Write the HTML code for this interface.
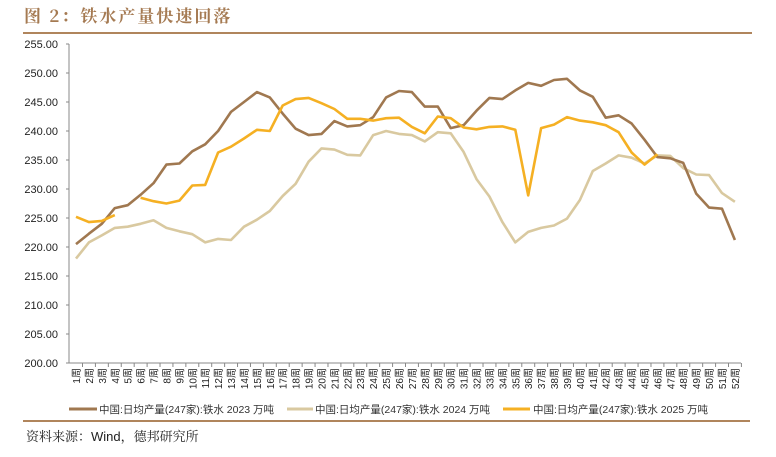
<!DOCTYPE html>
<html><head><meta charset="utf-8"><style>
body{margin:0;width:776px;height:452px;background:#fff;overflow:hidden;font-family:"Liberation Sans","Noto Sans CJK SC",sans-serif}
</style></head><body>
<svg id="s" width="776" height="452" xmlns="http://www.w3.org/2000/svg" font-family="Liberation Sans, Noto Sans CJK SC, sans-serif">
<text x="24" y="22" font-size="17" font-weight="bold" fill="#a57a52" font-family="Noto Serif CJK SC, serif" letter-spacing="2">图 2：铁水产量快速回落</text>
<line x1="23" y1="33" x2="752" y2="33" stroke="#b0855c" stroke-width="2"/>
<line x1="23" y1="421" x2="750" y2="421" stroke="#b0855c" stroke-width="2"/>
<text x="26" y="441" font-size="13" fill="#222" font-family="Noto Serif CJK SC, serif">资料来源：<tspan font-family="Liberation Sans">Wind</tspan>，德邦研究所</text>
<g id="g"></g>
<g font-size="10.5" fill="#333">
<line x1="69" y1="409" x2="97" y2="409" stroke="#a07850" stroke-width="3"/>
<text x="99" y="413">中国:日均产量(247家):铁水 2023 万吨</text>
<line x1="287" y1="409" x2="313" y2="409" stroke="#d9c9a0" stroke-width="3"/>
<text x="315" y="413">中国:日均产量(247家):铁水 2024 万吨</text>
<line x1="503" y1="409" x2="530" y2="409" stroke="#f5b023" stroke-width="3"/>
<text x="533" y="413">中国:日均产量(247家):铁水 2025 万吨</text>
</g>
</svg>
<script>
var g=document.getElementById('g'),h='';
function Y(v){return 363-(v-200)*5.8}
function X(i){return 76+(i-1)*12.92}
h+='<line x1="69" y1="44" x2="69" y2="363" stroke="#888"/><line x1="69" y1="363" x2="741" y2="363" stroke="#888"/>';
for(var v=200;v<=255;v+=5){var y=Y(v);h+='<line x1="66" y1="'+y+'" x2="69" y2="'+y+'" stroke="#888"/><text x="58" y="'+(y+4)+'" font-size="11" text-anchor="end" fill="#222">'+v.toFixed(2)+'</text>';}
for(var i=1;i<=52;i++){var x=X(i);h+='<line x1="'+(x+6.5)+'" y1="363" x2="'+(x+6.5)+'" y2="367" stroke="#888"/><text transform="translate('+(x+4)+',368) rotate(-90)" font-size="10" text-anchor="end" fill="#222">'+i+'周</text>';}
var a=[220.5,222.3,224,226.7,227.2,229,231,234.2,234.4,236.5,237.7,240,243.3,245,246.7,245.8,243,240.4,239.3,239.5,241.7,240.8,241,242.4,245.8,246.9,246.7,244.2,244.2,240.5,241,243.5,245.7,245.5,247,248.3,247.8,248.8,249,247,245.9,242.3,242.7,241.3,238.5,235.5,235.3,234.5,229.2,226.8,226.6,221.2];
var b=[218,220.8,222,223.3,223.5,224,224.6,223.3,222.7,222.2,220.8,221.4,221.2,223.5,224.7,226.2,228.8,230.9,234.7,237,236.8,235.9,235.8,239.3,240,239.5,239.3,238.2,239.8,239.6,236.4,231.7,228.7,224.3,220.8,222.6,223.3,223.7,224.9,228.1,233.1,234.4,235.8,235.4,234.4,235.8,235.7,233.6,232.5,232.4,229.3,227.8];
var c1=[225.2,224.3,224.5,225.5];
var c2=[228.5,227.9,227.5,228,230.6,230.7,236.3,237.3,238.7,240.2,240,244.4,245.5,245.7,244.8,243.8,242.1,242.1,241.8,242.2,242.3,240.7,239.6,242.5,242.2,240.6,240.3,240.7,240.8,240.2,228.9,240.5,241.1,242.4,241.8,241.5,241,239.8,236.3,234.2,236];
function P(arr,s,col){return '<polyline fill="none" stroke="'+col+'" stroke-width="2.6" stroke-linejoin="round" points="'+arr.map(function(v,k){return X(s+k).toFixed(1)+','+Y(v).toFixed(1)}).join(' ')+'"/>'}
h+=P(b,1,'#d9c9a0')+P(a,1,'#a07850')+P(c1,1,'#f5b023')+P(c2,6,'#f5b023');
g.innerHTML=h;
</script>
</body></html>
